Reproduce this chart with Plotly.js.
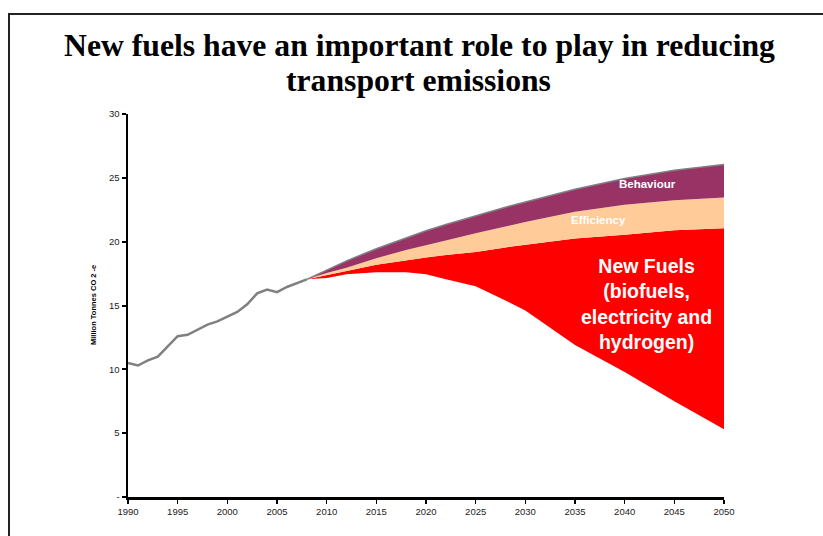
<!DOCTYPE html>
<html>
<head>
<meta charset="utf-8">
<script src="https://cdn.plot.ly/plotly-3.0.1.min.js"></script>
<style>
  html, body { margin: 0; padding: 0; background: #fff; }
  #chart { width: 823px; height: 536px; }
</style>
</head>
<body>
<div id="chart"></div>
<script>
// Historical emissions (Million Tonnes CO2-e)
const histYears = [1990,1991,1992,1993,1994,1995,1996,1997,1998,1999,2000,2001,2002,2003,2004,2005,2006,2007,2008];
const histValues = [10.5,10.3,10.7,11.0,11.8,12.6,12.7,13.1,13.5,13.75,14.1,14.5,15.1,15.95,16.25,16.05,16.45,16.75,17.05];

// Projection boundaries
const projYears = [2008,2010,2012,2015,2018,2020,2022,2025,2028,2030,2035,2040,2045,2050];
const remaining = [17.05,17.15,17.45,17.6,17.6,17.45,17.05,16.5,15.4,14.6,11.9,9.8,7.5,5.3];
const newFuelsTop = [17.05,17.35,17.7,18.2,18.55,18.75,18.95,19.2,19.55,19.75,20.25,20.55,20.9,21.05];
const efficiencyTop = [17.05,17.55,17.95,18.7,19.35,19.75,20.1,20.65,21.2,21.55,22.35,22.9,23.25,23.45];
const businessAsUsual = [17.05,17.8,18.5,19.45,20.3,20.85,21.35,22.05,22.7,23.1,24.1,24.95,25.6,26.05];

const xTicks = [1990,1995,2000,2005,2010,2015,2020,2025,2030,2035,2040,2045,2050];
const yTickVals = [0,5,10,15,20,25,30];
const yTickText = ['-','5','10','15','20','25','30'];

const titleLines = ['New fuels have an important role to play in reducing', 'transport emissions'];

const traces = [
  { x: projYears, y: remaining, type: 'scatter', mode: 'lines',
    line: { width: 0, color: 'rgba(0,0,0,0)' }, hoverinfo: 'skip', showlegend: false },
  { x: projYears, y: newFuelsTop, type: 'scatter', mode: 'lines', fill: 'tonexty',
    fillcolor: '#FF0000', line: { width: 0, color: '#FF0000' }, name: 'New Fuels', showlegend: false },
  { x: projYears, y: efficiencyTop, type: 'scatter', mode: 'lines', fill: 'tonexty',
    fillcolor: '#FFCC99', line: { width: 0, color: '#FFCC99' }, name: 'Efficiency', showlegend: false },
  { x: projYears, y: businessAsUsual, type: 'scatter', mode: 'lines', fill: 'tonexty',
    fillcolor: '#993366', line: { width: 1.5, color: '#808080' }, name: 'Behaviour', showlegend: false },
  { x: histYears, y: histValues, type: 'scatter', mode: 'lines',
    line: { width: 2.5, color: '#808080' }, name: 'Historical', showlegend: false }
];

const titleFont = { family: 'Liberation Serif, Times New Roman, serif', size: 31.7, color: '#000' };
const tickFont = { family: 'Liberation Sans, Arial, sans-serif', size: 9.5, color: '#222' };

const layout = {
  width: 823, height: 536,
  margin: { l: 128, r: 99, t: 114, b: 39 },
  paper_bgcolor: '#ffffff', plot_bgcolor: '#ffffff',
  showlegend: false,
  xaxis: {
    range: [1990, 2050], tickmode: 'array', tickvals: xTicks,
    ticks: 'outside', ticklen: 4, tickwidth: 1.5, tickcolor: '#000',
    showline: true, linecolor: '#000', linewidth: 2.5,
    showgrid: false, zeroline: false, tickfont: tickFont
  },
  yaxis: {
    range: [0, 30], tickmode: 'array', tickvals: yTickVals, ticktext: yTickText,
    ticks: 'outside', ticklen: 4, tickwidth: 2, tickcolor: '#000',
    showline: true, linecolor: '#000', linewidth: 2.5,
    showgrid: false, zeroline: false, tickfont: tickFont
  },
  shapes: [
    { type: 'rect', xref: 'paper', yref: 'paper',
      x0: (9 - 128) / 596, x1: (840 - 128) / 596,
      y0: (497 - 560) / 383, y1: (497 - 14) / 383,
      line: { color: '#222', width: 2 }, fillcolor: 'rgba(0,0,0,0)', layer: 'below' }
  ],
  annotations: [
    { xref: 'paper', yref: 'paper', x: (419 - 128) / 596, y: (497 - 45) / 383,
      text: '<b>' + titleLines[0] + '</b>', showarrow: false, font: titleFont,
      xanchor: 'center', yanchor: 'middle' },
    { xref: 'paper', yref: 'paper', x: (418 - 128) / 596, y: (497 - 80) / 383,
      text: '<b>' + titleLines[1] + '</b>', showarrow: false, font: titleFont,
      xanchor: 'center', yanchor: 'middle' },
    { xref: 'paper', yref: 'y', x: 0, y: 15, xshift: -41, textangle: -90,
      text: '<b>Million Tonnes CO 2 -e</b>', showarrow: false,
      font: { family: 'Liberation Sans, Arial, sans-serif', size: 7.5, color: '#000' } },
    { x: 2042.3, y: 24.5, text: '<b>Behaviour</b>', showarrow: false,
      font: { family: 'Liberation Sans, Arial, sans-serif', size: 11.5, color: '#fff' } },
    { x: 2037.4, y: 21.7, text: '<b>Efficiency</b>', showarrow: false,
      font: { family: 'Liberation Sans, Arial, sans-serif', size: 11.5, color: '#fff' } },
    { x: 2042.2, y: 15.1, text: '<b>New Fuels<br>(biofuels,<br>electricity and<br>hydrogen)</b>', showarrow: false,
      font: { family: 'Liberation Sans, Arial, sans-serif', size: 19.5, color: '#fff' } }
  ]
};

Plotly.newPlot('chart', traces, layout, { displayModeBar: false, staticPlot: true });
</script>
</body>
</html>
